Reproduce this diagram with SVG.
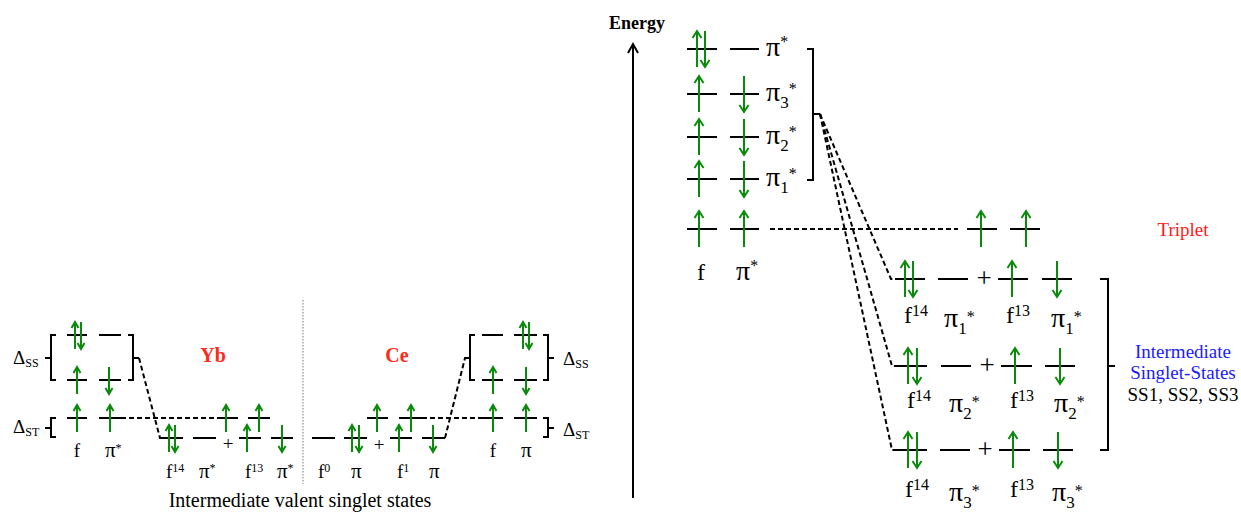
<svg xmlns="http://www.w3.org/2000/svg" xmlns:xlink="http://www.w3.org/1999/xlink" width="1241" height="512" viewBox="0 0 1241 512">
<style>
.lv{stroke:#000;stroke-width:2;fill:none}
.br{stroke:#000;stroke-width:2;fill:none}
.ds{stroke:#000;stroke-width:2;fill:none;stroke-dasharray:5 3}
.t{font-family:"Liberation Serif","Times New Roman",serif;fill:#000}
.ls{font-size:19px}
.lp{font-size:21px}
.lsup{font-size:12px}
.rs{font-size:24px}
.rp{font-size:28px}
.rsub{font-size:17px}
.rsup{font-size:16px}
.red{fill:#ff2a1a;font-weight:bold;font-size:20px}
</style>
<defs>
<path id="uL" d="M0,18 V-18 M-4.5,-11 L0,-18 L4.5,-11"/>
<path id="dL" d="M0,-18 V18 M-4.5,11 L0,18 L4.5,11"/>
<path id="uS" d="M0,14 V-13 M-3.5,-7 L0,-13 L3.5,-7"/>
<path id="dS" d="M0,-13 V14 M-3.5,8 L0,14 L3.5,8"/>
</defs>
<rect width="1241" height="512" fill="#fff"/>

<g id="connectors">
  <path class="ds" d="M121,418 H217"/>
  <path class="ds" d="M139,358 L160,438 H163"/>
  <path class="ds" d="M422,418 H483"/>
  <path class="ds" d="M445,438 L465,358 H470"/>
  <path class="ds" d="M770,229 H958"/>
  <path class="ds" d="M820,114 L891,279 H896"/>
  <path class="ds" d="M820,114 L892,366 H898"/>
  <path class="ds" d="M820,114 L892,450 H898"/>
  <line x1="303" y1="300" x2="303" y2="484" stroke="#777" stroke-width="1" stroke-dasharray="1.5 1.5"/>
</g>

<g id="yb-ss">
  <path class="lv" d="M67,335 H87 M99,335 H121 M67,380 H87 M99,380 H121 M67,418 H87 M99,418 H121"/>
  <path class="br" d="M56,335 H51 V380 H56 M51,358 H45"/>
  <path class="br" d="M128,335 H133 V380 H128 M133,358 H139"/>
  <path class="br" d="M56,418 H51 V437 H56 M51,428 H45"/>
  <g fill="none" stroke="#0a8a0a" stroke-width="2">
    <use xlink:href="#uS" x="75" y="335"/><use xlink:href="#dS" x="81" y="335"/>
    <use xlink:href="#uS" x="77" y="380"/><use xlink:href="#dS" x="109" y="380"/>
    <use xlink:href="#uS" x="77" y="418"/><use xlink:href="#uS" x="110" y="418"/>
  </g>
  <text class="t ls" x="13" y="364">Δ<tspan class="lsup" dy="3">SS</tspan></text>
  <text class="t ls" x="13" y="433">Δ<tspan class="lsup" dy="3">ST</tspan></text>
  <text class="t ls" x="77" y="457" text-anchor="middle">f</text>
  <text class="t lp" x="105" y="457">π<tspan class="lsup" dy="-5">*</tspan></text>
</g>

<g id="yb-mixed">
  <path class="lv" d="M162,438 H183 M193,438 H216 M239,438 H261 M271,438 H293 M217,418 H238 M248,418 H270"/>
  <g fill="none" stroke="#0a8a0a" stroke-width="2">
    <use xlink:href="#uS" x="169" y="438"/><use xlink:href="#dS" x="175" y="438"/>
    <use xlink:href="#uS" x="247" y="438"/><use xlink:href="#dS" x="282" y="438"/>
    <use xlink:href="#uS" x="226" y="418"/><use xlink:href="#uS" x="259" y="418"/>
  </g>
  <text class="t ls" x="228" y="450" text-anchor="middle">+</text>
  <text class="t ls" x="166" y="478">f<tspan class="lsup" dy="-6">14</tspan></text>
  <text class="t lp" x="199" y="478">π<tspan class="lsup" dy="-6">*</tspan></text>
  <text class="t ls" x="245" y="478">f<tspan class="lsup" dy="-6">13</tspan></text>
  <text class="t lp" x="277" y="478">π<tspan class="lsup" dy="-6">*</tspan></text>
  <text class="t red" x="213" y="362" text-anchor="middle">Yb</text>
</g>

<g id="ce-mixed">
  <path class="lv" d="M312,438 H335 M344,438 H367 M390,438 H412 M422,438 H445 M367,418 H388 M399,418 H422"/>
  <g fill="none" stroke="#0a8a0a" stroke-width="2">
    <use xlink:href="#uS" x="352" y="438"/><use xlink:href="#dS" x="359" y="438"/>
    <use xlink:href="#uS" x="399" y="438"/><use xlink:href="#dS" x="433" y="438"/>
    <use xlink:href="#uS" x="377" y="418"/><use xlink:href="#uS" x="411" y="418"/>
  </g>
  <text class="t ls" x="379" y="451" text-anchor="middle">+</text>
  <text class="t ls" x="318" y="478">f<tspan class="lsup" dy="-6">0</tspan></text>
  <text class="t lp" x="351" y="478">π</text>
  <text class="t ls" x="397" y="478">f<tspan class="lsup" dy="-6">1</tspan></text>
  <text class="t lp" x="429" y="478">π</text>
  <text class="t red" x="397" y="362" text-anchor="middle">Ce</text>
</g>

<g id="ce-ss">
  <path class="lv" d="M482,335 H503 M514,335 H537 M482,380 H503 M514,380 H537 M482,418 H503 M514,418 H537"/>
  <path class="br" d="M475,335 H470 V380 H475 M470,358 H465"/>
  <path class="br" d="M543,335 H548 V380 H543 M548,358 H554"/>
  <path class="br" d="M543,418 H548 V437 H543 M548,428 H554"/>
  <g fill="none" stroke="#0a8a0a" stroke-width="2">
    <use xlink:href="#uS" x="523" y="335"/><use xlink:href="#dS" x="529" y="335"/>
    <use xlink:href="#uS" x="493" y="380"/><use xlink:href="#dS" x="526" y="380"/>
    <use xlink:href="#uS" x="493" y="418"/><use xlink:href="#uS" x="526" y="418"/>
  </g>
  <text class="t ls" x="563" y="365">Δ<tspan class="lsup" dy="3">SS</tspan></text>
  <text class="t ls" x="563" y="436">Δ<tspan class="lsup" dy="3">ST</tspan></text>
  <text class="t ls" x="493" y="457" text-anchor="middle">f</text>
  <text class="t lp" x="521" y="457">π</text>
</g>

<text class="t" x="300" y="507" font-size="20" text-anchor="middle">Intermediate valent singlet states</text>

<g id="energy-axis">
  <path class="br" d="M633,498 V44 M628,53 L633,44 L638,53"/>
  <text class="t" x="637" y="29" font-size="18" font-weight="bold" text-anchor="middle">Energy</text>
</g>

<g id="ladder">
  <path class="lv" d="M687,49 H717 M730,49 H759 M687,94 H717 M730,94 H759 M687,137 H717 M730,137 H759 M687,179 H717 M730,179 H759 M687,229 H717 M730,229 H759"/>
  <path class="br" d="M807,49 H813 V180 H807 M813,114 H820"/>
  <g fill="none" stroke="#0a8a0a" stroke-width="2">
    <use xlink:href="#uL" x="697" y="49"/><use xlink:href="#dL" x="705" y="49"/>
    <use xlink:href="#uL" x="699" y="94"/><use xlink:href="#dL" x="744" y="94"/>
    <use xlink:href="#uL" x="699" y="137"/><use xlink:href="#dL" x="744" y="137"/>
    <use xlink:href="#uL" x="699" y="179"/><use xlink:href="#dL" x="744" y="179"/>
    <use xlink:href="#uL" x="699" y="229"/><use xlink:href="#uL" x="744" y="229"/>
  </g>
  <text class="t rp" x="766" y="56">π<tspan class="rsup" dy="-9">*</tspan></text>
  <text class="t rp" x="766" y="101">π<tspan class="rsub" dy="7">3</tspan><tspan class="rsup" dy="-14">*</tspan></text>
  <text class="t rp" x="766" y="144">π<tspan class="rsub" dy="7">2</tspan><tspan class="rsup" dy="-14">*</tspan></text>
  <text class="t rp" x="766" y="186">π<tspan class="rsub" dy="7">1</tspan><tspan class="rsup" dy="-14">*</tspan></text>
  <text class="t rs" x="701" y="280" text-anchor="middle">f</text>
  <text class="t rp" x="736" y="280">π<tspan class="rsup" dy="-9">*</tspan></text>
</g>

<g id="triplet">
  <path class="lv" d="M967,229 H997 M1010,229 H1040"/>
  <g fill="none" stroke="#0a8a0a" stroke-width="2">
    <use xlink:href="#uL" x="981" y="229"/><use xlink:href="#uL" x="1026" y="229"/>
  </g>
  <text class="t" x="1183" y="236" font-size="19" text-anchor="middle" style="fill:#ff1a1a">Triplet</text>
</g>

<g id="ss1">
  <path class="lv" d="M895,279 H925 M938,279 H968 M998,279 H1028 M1042,279 H1072"/>
  <g fill="none" stroke="#0a8a0a" stroke-width="2">
    <use xlink:href="#uL" x="905" y="279"/><use xlink:href="#dL" x="913" y="279"/>
    <use xlink:href="#uL" x="1012" y="279"/><use xlink:href="#dL" x="1057" y="279"/>
  </g>
  <text class="t" x="984" y="287" font-size="27" text-anchor="middle">+</text>
  <text class="t rs" x="904" y="323">f<tspan class="rsup" dy="-7">14</tspan></text>
  <text class="t rp" x="944" y="327">π<tspan class="rsub" dy="7">1</tspan><tspan class="rsup" dy="-12">*</tspan></text>
  <text class="t rs" x="1006" y="323">f<tspan class="rsup" dy="-7">13</tspan></text>
  <text class="t rp" x="1051" y="327">π<tspan class="rsub" dy="7">1</tspan><tspan class="rsup" dy="-12">*</tspan></text>
</g>

<g id="ss2">
  <path class="lv" d="M897,366 H927 M941,366 H971 M1001,366 H1032 M1045,366 H1075"/>
  <g fill="none" stroke="#0a8a0a" stroke-width="2">
    <use xlink:href="#uL" x="908" y="366"/><use xlink:href="#dL" x="917" y="366"/>
    <use xlink:href="#uL" x="1015" y="366"/><use xlink:href="#dL" x="1060" y="366"/>
  </g>
  <text class="t" x="987" y="374" font-size="27" text-anchor="middle">+</text>
  <text class="t rs" x="907" y="408">f<tspan class="rsup" dy="-7">14</tspan></text>
  <text class="t rp" x="949" y="412">π<tspan class="rsub" dy="7">2</tspan><tspan class="rsup" dy="-12">*</tspan></text>
  <text class="t rs" x="1010" y="408">f<tspan class="rsup" dy="-7">13</tspan></text>
  <text class="t rp" x="1054" y="412">π<tspan class="rsub" dy="7">2</tspan><tspan class="rsup" dy="-12">*</tspan></text>
</g>

<g id="ss3">
  <path class="lv" d="M897,450 H927 M940,450 H970 M999,450 H1030 M1043,450 H1073"/>
  <g fill="none" stroke="#0a8a0a" stroke-width="2">
    <use xlink:href="#uL" x="908" y="450"/><use xlink:href="#dL" x="917" y="450"/>
    <use xlink:href="#uL" x="1013" y="450"/><use xlink:href="#dL" x="1058" y="450"/>
  </g>
  <text class="t" x="985" y="458" font-size="27" text-anchor="middle">+</text>
  <text class="t rs" x="905" y="497">f<tspan class="rsup" dy="-7">14</tspan></text>
  <text class="t rp" x="949" y="501">π<tspan class="rsub" dy="7">3</tspan><tspan class="rsup" dy="-12">*</tspan></text>
  <text class="t rs" x="1010" y="497">f<tspan class="rsup" dy="-7">13</tspan></text>
  <text class="t rp" x="1052" y="501">π<tspan class="rsub" dy="7">3</tspan><tspan class="rsup" dy="-12">*</tspan></text>
</g>

<g id="ss-bracket">
  <path class="br" d="M1100,279 H1108 V450 H1100 M1108,366 H1115"/>
  <text class="t" x="1183" y="358" font-size="19" text-anchor="middle" style="fill:#1a1aff">Intermediate</text>
  <text class="t" x="1183" y="379" font-size="19" text-anchor="middle" style="fill:#1a1aff">Singlet-States</text>
  <text class="t" x="1183" y="401" font-size="19" text-anchor="middle">SS1, SS2, SS3</text>
</g>
</svg>
